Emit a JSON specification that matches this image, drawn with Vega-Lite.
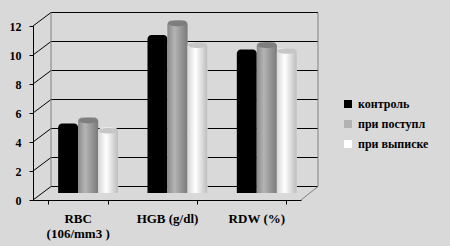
{
  "$schema": "https://vega.github.io/schema/vega-lite/v6.json",
  "width": 268,
  "height": 174,
  "autosize": "none",
  "padding": {"left": 33, "top": 26, "right": 149, "bottom": 46},
  "background": "#d9d9d9",
  "config": {
    "view": {"stroke": null},
    "font": "Liberation Serif",
    "axis": {"title": null, "grid": false, "domain": true, "ticks": true, "domainColor": "#000000", "domainWidth": 1, "tickColor": "#000000", "tickWidth": 1, "tickSize": 4,
      "labelFont": "Liberation Serif", "labelFontWeight": "bold", "labelColor": "#000000", "labelPadding": 8, "labelOverlap": false},
    "axisY": {"labelFontSize": 12, "tickCount": 6},
    "axisX": {"labelFontSize": 13, "labelAngle": 0, "tickBand": "extent", "labelLineHeight": 15}
  },
  "data": {"values": [
    {"cat": "RBC (106/mm3 )", "series": "контроль", "v": 4.8},
    {"cat": "RBC (106/mm3 )", "series": "при  поступл", "v": 5.2},
    {"cat": "RBC (106/mm3 )", "series": "при  выписке", "v": 4.5},
    {"cat": "HGB  (g/dl)", "series": "контроль", "v": 10.9},
    {"cat": "HGB  (g/dl)", "series": "при  поступл", "v": 11.9},
    {"cat": "HGB  (g/dl)", "series": "при  выписке", "v": 10.4},
    {"cat": "RDW (%)", "series": "контроль", "v": 9.9},
    {"cat": "RDW (%)", "series": "при  поступл", "v": 10.4},
    {"cat": "RDW (%)", "series": "при  выписке", "v": 10.0}
  ]},
  "layer": [
    {
      "data": {"values": [{"g": 0}, {"g": 2}, {"g": 4}, {"g": 6}, {"g": 8}, {"g": 10}, {"g": 12}]},
      "mark": {"type": "rule", "color": "#000000", "strokeWidth": 1, "xOffset": -26.65, "x2Offset": 61.67, "yOffset": -13.5, "y2Offset": -13.5},
      "encoding": {
        "x": {"datum": "RBC (106/mm3 )", "type": "nominal"},
        "x2": {"datum": "RDW (%)"},
        "y": {"field": "g", "type": "quantitative", "scale": {"domain": [0, 12]}},
        "y2": {"field": "g"}
      }
    },
    {
      "data": {"values": [{"g": 0}, {"g": 2}, {"g": 4}, {"g": 6}, {"g": 8}, {"g": 10}, {"g": 12}]},
      "mark": {"type": "rule", "color": "#000000", "strokeWidth": 1, "xOffset": -44.65, "x2Offset": -26.65, "y2Offset": -13.5},
      "encoding": {
        "x": {"datum": "RBC (106/mm3 )", "type": "nominal"},
        "x2": {"datum": "RBC (106/mm3 )"},
        "y": {"field": "g", "type": "quantitative"},
        "y2": {"field": "g"}
      }
    },
    {
      "data": {"values": [{"a": 0, "b": 12}]},
      "mark": {"type": "rule", "color": "#808080", "strokeWidth": 1, "xOffset": -26.65, "yOffset": -13.5, "y2Offset": -13.5},
      "encoding": {
        "x": {"datum": "RBC (106/mm3 )", "type": "nominal"},
        "y": {"field": "a", "type": "quantitative"},
        "y2": {"field": "b"}
      }
    },
    {
      "data": {"values": [{"a": 0, "b": 12}]},
      "mark": {"type": "rule", "color": "#808080", "strokeWidth": 1, "xOffset": 61.67, "yOffset": -13.5, "y2Offset": -13.5},
      "encoding": {
        "x": {"datum": "RDW (%)", "type": "nominal"},
        "y": {"field": "a", "type": "quantitative"},
        "y2": {"field": "b"}
      }
    },
    {
      "data": {"values": [{"a": 0}]},
      "mark": {"type": "rule", "color": "#808080", "strokeWidth": 1, "xOffset": 44.67, "x2Offset": 61.67, "y2Offset": -13.5},
      "encoding": {
        "x": {"datum": "RDW (%)", "type": "nominal"},
        "x2": {"datum": "RDW (%)"},
        "y": {"field": "a", "type": "quantitative"},
        "y2": {"field": "a"}
      }
    },
    {
      "mark": {"type": "bar", "yOffset": -7, "y2Offset": -7, "cornerRadiusTopLeft": 4, "cornerRadiusTopRight": 4},
      "encoding": {
        "x": {"field": "cat", "type": "nominal", "sort": null,
          "scale": {"domain": ["RBC (106/mm3 )", "HGB  (g/dl)", "RDW (%)"], "paddingInner": 0.328, "paddingOuter": 0.164},
          "axis": {"labelExpr": "datum.label == 'RBC (106/mm3 )' ? ['RBC', '(106/mm3 )'] : datum.label"}},
        "xOffset": {"field": "series", "sort": null, "scale": {"domain": ["контроль", "при  поступл", "при  выписке"], "paddingInner": 0, "paddingOuter": 0, "range": [10.5, 70.5]}},
        "y": {"field": "v", "type": "quantitative", "stack": null, "scale": {"domain": [0, 12]}},
        "y2": {"datum": 0},
        "color": {"field": "series", "type": "nominal", "sort": null,
          "scale": {"domain": ["контроль", "при  поступл", "при  выписке"], "range": ["#000000", "#b2b2b2", "#ffffff"]},
          "legend": {"title": null, "orient": "none", "legendX": 309, "legendY": 72, "symbolType": "square", "symbolSize": 64,
            "symbolStrokeWidth": 0, "labelFont": "Liberation Serif", "labelFontWeight": "bold", "labelFontSize": 12, "labelColor": "#000000",
            "labelOffset": 4, "rowPadding": 8, "padding": 0}}
      }
    },
    {
      "transform": [{"filter": "datum.series == 'при  поступл'"}],
      "mark": {"type": "bar", "yOffset": -7, "y2Offset": -7, "cornerRadiusTopLeft": 4, "cornerRadiusTopRight": 4,
        "fill": {"gradient": "linear", "x1": 0, "y1": 0, "x2": 1, "y2": 0, "stops": [{"offset": 0, "color": "#8a8a8a"}, {"offset": 0.35, "color": "#b4b4b4"}, {"offset": 1, "color": "#7a7a7a"}]}},
      "encoding": {
        "x": {"field": "cat", "type": "nominal", "sort": null},
        "xOffset": {"field": "series", "sort": null},
        "y": {"field": "v", "type": "quantitative", "stack": null},
        "y2": {"datum": 0}
      }
    },
    {
      "transform": [{"filter": "datum.series == 'при  выписке'"}],
      "mark": {"type": "bar", "yOffset": -7, "y2Offset": -7, "cornerRadiusTopLeft": 4, "cornerRadiusTopRight": 4,
        "fill": {"gradient": "linear", "x1": 0, "y1": 0, "x2": 1, "y2": 0, "stops": [{"offset": 0, "color": "#d6d6d6"}, {"offset": 0.4, "color": "#ffffff"}, {"offset": 1, "color": "#bcbcbc"}]}},
      "encoding": {
        "x": {"field": "cat", "type": "nominal", "sort": null},
        "xOffset": {"field": "series", "sort": null},
        "y": {"field": "v", "type": "quantitative", "stack": null},
        "y2": {"datum": 0}
      }
    },
    {
      "transform": [{"filter": "datum.series != 'контроль'"}],
      "mark": {"type": "point", "filled": true, "opacity": 1, "strokeWidth": 0, "yOffset": -4, "size": 360,
        "shape": "M -1 0 A 1 0.3 0 1 0 1 0 A 1 0.3 0 1 0 -1 0 Z"},
      "encoding": {
        "x": {"field": "cat", "type": "nominal", "sort": null},
        "xOffset": {"field": "series", "sort": null},
        "y": {"field": "v", "type": "quantitative", "stack": null},
        "fill": {"field": "series", "type": "nominal", "scale": {"domain": ["при  поступл", "при  выписке"], "range": ["#7e7e7e", "#c6c6c6"]}, "legend": null}
      }
    }
  ]
}
